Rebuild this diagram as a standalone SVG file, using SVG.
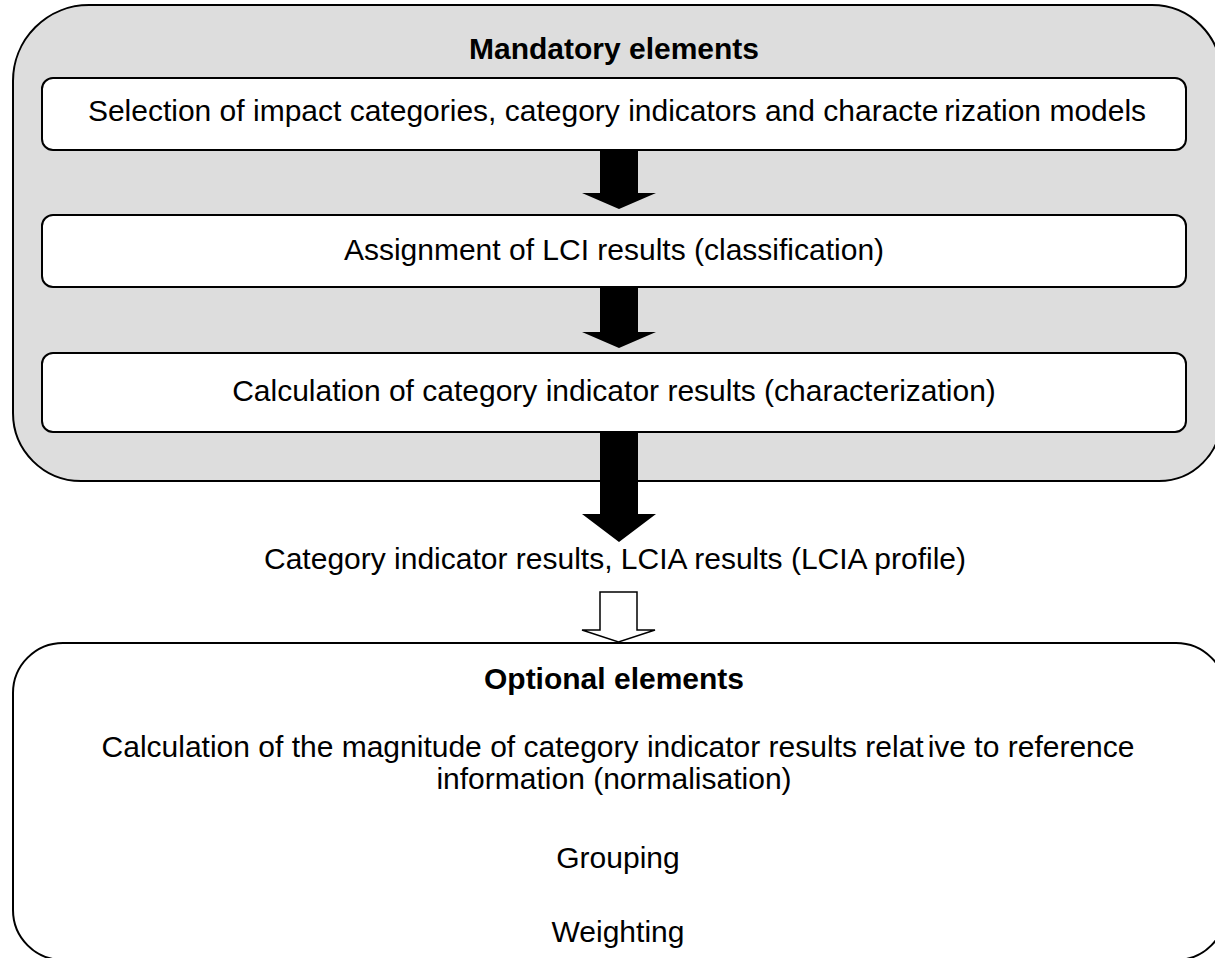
<svg xmlns="http://www.w3.org/2000/svg" width="1215" height="958" viewBox="0 0 1215 958">
<style>
text{font-family:"Liberation Sans",Arial,sans-serif;font-size:30px;fill:#000;text-anchor:middle}
.b{font-weight:bold}
.outer{fill:#dddddd;stroke:#000;stroke-width:2}
.inner{fill:#fff;stroke:#000;stroke-width:2}
.opt{fill:#fff;stroke:#000;stroke-width:2}
.solid{fill:#000;stroke:none}
.hollow{fill:#fff;stroke:#000;stroke-width:1.5}
</style>
<rect width="1215" height="958" fill="#fff"/>
<g id="mandatory">
<path class="outer" d="M89,5 H1152 A69,69 0 0 1 1221,74 V419 A62,62 0 0 1 1159,481 H81 A68,68 0 0 1 13,413 V81 A76,76 0 0 1 89,5 Z"/>
<text class="b" x="614" y="59">Mandatory elements</text>
</g>
<g id="selection">
<rect class="inner" x="42" y="78" width="1144" height="72" rx="11"/>
<text x="617" y="121">Selection of impact categories, category indicators and characte<tspan dx="6">rization models</tspan></text>
</g>
<g id="assignment">
<rect class="inner" x="42" y="215" width="1144" height="72" rx="11"/>
<text x="614" y="260">Assignment of LCI results (classification)</text>
</g>
<g id="calculation">
<rect class="inner" x="42" y="353" width="1144" height="79" rx="11"/>
<text x="614" y="401">Calculation of category indicator results (characterization)</text>
</g>
<g id="lcia-results">
<text x="615" y="569">Category indicator results, LCIA results (LCIA profile)</text>
</g>
<g id="optional">
<rect class="opt" x="13" y="643" width="1213" height="317" rx="50"/>
<text class="b" x="614" y="689">Optional elements</text>
<text x="618" y="757">Calculation of the magnitude of category indicator results relat<tspan dx="4">ive to reference</tspan></text>
<text x="614" y="789">information (normalisation)</text>
<text x="618" y="868">Grouping</text>
<text x="618" y="942">Weighting</text>
</g>
<g id="connectors">
<path class="solid" d="M600,150 H638 V193 H656 L619,209 L582,193 H600 Z"/>
<path class="solid" d="M600,287 H638 V332 H656 L619,348 L582,332 H600 Z"/>
<path class="solid" d="M600,432 H638 V514 H656 L619,542 L582,514 H600 Z"/>
<path class="hollow" d="M600,592 H637 V630 H655 L618.5,642 L582,630 H600 Z"/>
</g>
</svg>
